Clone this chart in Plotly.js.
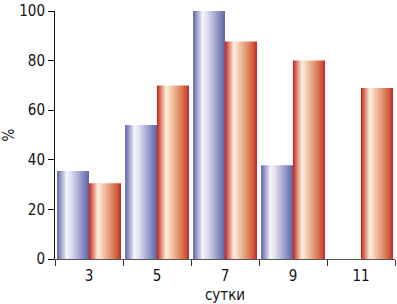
<!DOCTYPE html>
<html><head><meta charset="utf-8">
<script src="https://cdn.plot.ly/plotly-3.0.1.min.js"></script>
<style>html,body{margin:0;padding:0;background:#fff;}#chart{width:397px;height:304px;}</style>
</head><body><div id="chart"></div>
<script>
const categories = ['3', '5', '7', '9', '11'];
const seriesBlue = [35.5, 54, 100, 37.8, null];
const seriesRed = [30.5, 70, 87.7, 80, 69];
const yTicks = [0, 20, 40, 60, 80, 100];

const FONT = '"Liberation Sans Narrow", "Arial Narrow", "DejaVu Sans Condensed", "Liberation Sans", sans-serif';

const traces = [
  {type: 'bar', x: categories, y: seriesBlue, marker: {color: '#8a8ec2', line: {width: 0}}, hoverinfo: 'skip'},
  {type: 'bar', x: categories, y: seriesRed, marker: {color: '#d8704c', line: {width: 0}}, hoverinfo: 'skip'}
];

const layout = {
  width: 397, height: 304,
  margin: {l: 55, r: 2, t: 11, b: 45},
  paper_bgcolor: '#fff', plot_bgcolor: '#fff',
  showlegend: false,
  barmode: 'group', bargap: 0.06, bargroupgap: 0,
  font: {family: FONT, size: 15, color: '#111'},
  xaxis: {
    type: 'category', tickson: 'boundaries', ticks: 'outside', ticklen: 6, tickcolor: '#333', tickwidth: 1,
    showline: true, linecolor: '#555', linewidth: 1, showgrid: false, zeroline: false,
    ticklabelstandoff: 3,
    tickfont: {family: FONT, size: 15, color: '#111'},
    title: {text: 'сутки', font: {family: FONT, size: 15, color: '#111'}, standoff: 5}
  },
  yaxis: {
    range: [0, 100], tickvals: yTicks, ticktext: yTicks.map(String), ticks: 'outside', ticklen: 6, tickcolor: '#111',
    showline: true, linecolor: '#111', linewidth: 1, showgrid: false, zeroline: false,
    tickfont: {family: FONT, size: 15, color: '#111'},
    title: {text: '%', font: {family: FONT, size: 15, color: '#111'}, standoff: 6}
  }
};

function addGradients(gd) {
  const svg = gd.querySelector('svg.main-svg');
  const ns = 'http://www.w3.org/2000/svg';
  let defs = svg.querySelector('defs');
  if (!defs) { defs = document.createElementNS(ns, 'defs'); svg.insertBefore(defs, svg.firstChild); }
  const grads = {
    gBlue: [[0, '#6569a8'], [0.07, '#8084bb'], [0.3, '#f5f5fb'], [0.45, '#dcddee'], [0.78, '#9093c6'], [0.93, '#6d71af'], [1, '#6064a4']],
    gRed: [[0, '#bf1c27'], [0.06, '#d6503a'], [0.28, '#fcefe2'], [0.45, '#f2c7a9'], [0.78, '#d87a53'], [0.92, '#cd4b38'], [1, '#c21c29']]
  };
  Object.keys(grads).forEach(id => {
    const lg = document.createElementNS(ns, 'linearGradient');
    lg.setAttribute('id', id);
    lg.setAttribute('x1', '0'); lg.setAttribute('y1', '0');
    lg.setAttribute('x2', '1'); lg.setAttribute('y2', '0');
    grads[id].forEach(s => {
      const st = document.createElementNS(ns, 'stop');
      st.setAttribute('offset', s[0]);
      st.setAttribute('stop-color', s[1]);
      lg.appendChild(st);
    });
    defs.appendChild(lg);
  });
  const barTraces = gd.querySelectorAll('.trace.bars');
  barTraces.forEach((t, i) => {
    t.querySelectorAll('path').forEach(p => {
      p.style.fill = i === 0 ? 'url(#gBlue)' : 'url(#gRed)';
      p.style.fillOpacity = 1;
    });
  });
}

const gd = document.getElementById('chart');
Plotly.newPlot(gd, traces, layout, {displayModeBar: false, staticPlot: true}).then(addGradients);
</script>
</body></html>
